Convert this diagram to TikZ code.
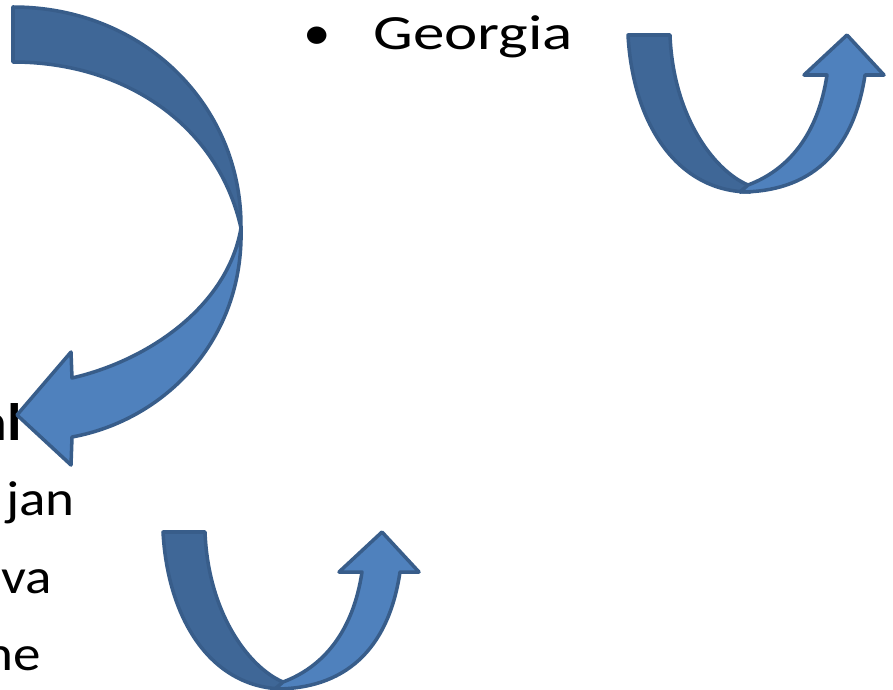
\documentclass[tikz,border=0pt]{standalone}
\usepackage{graphicx}
\usepackage{fontspec}
\setmainfont{Carlito}
\definecolor{bandDark}{HTML}{3F6797}
\definecolor{bandLight}{HTML}{4F81BD}
\definecolor{arrowLine}{HTML}{385D8A}
\newcommand{\wide}[2][1.12]{\scalebox{#1}[1]{#2}}

\begin{document}
\begin{tikzpicture}[
  x=0.02cm, y=-0.02cm,
  band/.style={draw=arrowLine, line width=2pt, line join=round},
  darkband/.style={band, fill=bandDark},
  lightband/.style={band, fill=bandLight},
  word/.style={inner sep=0pt, font=\fontsize{28}{34}\selectfont},
  uturn/.pic={
    \draw[darkband] (0,0) -- (42,0) .. controls (45,80) and (85,135) .. (120,150)
      -- (122,157) .. controls (50,157) and (5,90) .. (0,0) -- cycle;
    \draw[lightband] (120,150) .. controls (160,135) and (190,100) .. (199,40)
      -- (176,40) -- (219,0) -- (256,40) -- (237,40)
      .. controls (225,120) and (180,157) .. (112,157) -- cycle;
  }
  ]
	\clip (0,0) rectangle (893,690);

	\node[word, anchor=base west] (bullet) at (303,49) {\wide{•}};
	\node[word, anchor=base west] (georgia) at (373,49) {\wide[1.28]{Georgia}};

	\node[word, anchor=base east, font=\fontsize{30}{36}\selectfont\bfseries] (heading) at (22,440) {\wide{nl}};
	\node[word, anchor=base east] (azer) at (75,515) {\wide{jan}};
	\node[word, anchor=base east] (mold) at (52,593) {\wide{va}};
	\node[word, anchor=base east] (ukr) at (41,670) {\wide{ne}};

	% big turning arrow
	\draw[darkband] (13,7) .. controls (143,7) and (242,105) .. (241,228)
	  .. controls (218,125) and (125,62) .. (13,62) -- cycle;
	\draw[lightband] (241,228) .. controls (244,340) and (165,420) .. (72,437)
	  -- (71,465) -- (17,415) -- (71,352) -- (72,378)
	  .. controls (150,360) and (228,305) .. (241,228) -- cycle;

	\pic at (628,35) {uturn};
	\pic at (163,532) {uturn};
\end{tikzpicture}
\end{document}
